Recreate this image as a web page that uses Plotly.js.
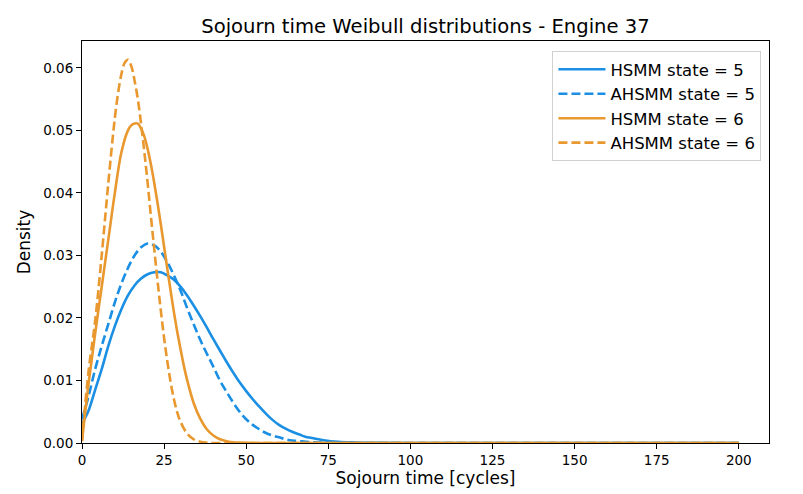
<!DOCTYPE html>
<html>
<head>
<meta charset="utf-8">
<script src="https://cdn.plot.ly/plotly-3.0.1.min.js"></script>
<style>html,body{margin:0;padding:0;background:#fff;}#chart{width:803px;height:494px;}</style>
</head>
<body>
<div id="chart"></div>
<script>
// Sojourn time (cycles) sample points
const hsmm5X = [0,2,4,6,8,10,12,14,16,18,20,22,24,26,28,30,32,34,36,38,40,42,44,46,48,50,52,54,56,58,60,62,64,66,68,70,74,78,82,86,90,100,120,150,200];
const hsmm5Y = [0.0031,0.0052,0.0085,0.0118,0.0155,0.0187,0.0214,0.0236,0.0252,0.0263,0.0270,0.0273,0.0273,0.0268,0.0261,0.0250,0.0236,0.0220,0.0203,0.0185,0.0166,0.0148,0.0130,0.0113,0.0097,0.0083,0.0070,0.0058,0.0047,0.0037,0.0029,0.0023,0.0018,0.0014,0.0010,0.0008,0.0004,0.0002,0.0001,0.00005,0.00002,0,0,0,0];

const ahsmm5X = [0,2,4,6,8,10,12,14,16,18,20,22,24,26,28,30,32,34,36,38,40,42,44,46,48,50,52,54,56,58,60,62,64,66,70,75,80,90,120,150,200];
const ahsmm5Y = [0.0038,0.0075,0.0118,0.0155,0.0190,0.0225,0.0255,0.0280,0.0300,0.0313,0.0319,0.0316,0.0306,0.0289,0.0268,0.0244,0.0216,0.0190,0.0165,0.0143,0.0122,0.0100,0.0082,0.0065,0.0050,0.0038,0.0029,0.0022,0.0016,0.0012,0.0009,0.0006,0.0004,0.0003,0.00012,0.00004,0.00001,0,0,0,0];

const hsmm6X = [0,2,4,6,8,10,12,14,15,16,17,18,19,20,21,22,23,24,25,26,27,28,29,30,31,32,34,36,38,40,42,44,46,50,55,70,100,150,200];
const hsmm6Y = [0.0003,0.0095,0.0175,0.0250,0.0325,0.0400,0.0465,0.0500,0.0508,0.0511,0.0511,0.0503,0.0490,0.0470,0.0445,0.0416,0.0384,0.0350,0.0314,0.0278,0.0243,0.0209,0.0178,0.0150,0.0124,0.0101,0.0064,0.0039,0.0022,0.0012,0.0006,0.0003,0.0001,0.00002,0,0,0,0,0];

const ahsmm6X = [0,2,4,6,8,10,11,12,13,14,15,16,17,18,19,20,21,22,23,24,25,26,27,28,29,30,32,34,36,38,40,50,70,100,150,200];
const ahsmm6Y = [0.0003,0.0115,0.0195,0.0300,0.0415,0.0520,0.0560,0.0590,0.0608,0.0613,0.0603,0.0580,0.0550,0.0510,0.0465,0.0415,0.0362,0.0310,0.0260,0.0212,0.0168,0.0130,0.0097,0.0070,0.0049,0.0034,0.0015,0.0006,0.0002,0.00005,0,0,0,0,0,0];

const seriesNames = ['HSMM state = 5','AHSMM state = 5','HSMM state = 6','AHSMM state = 6'];
const xTicks = [0,25,50,75,100,125,150,175,200];
const yTicks = [0,0.01,0.02,0.03,0.04,0.05,0.06];

const BLUE = '#1a8fe3', ORANGE = '#e8982e';
const DASH = '9px,4px';

const traces = [
  {x: hsmm5X, y: hsmm5Y, name: seriesNames[0], legendgroup: 'a', line: {color: BLUE, width: 2.6, shape: 'spline'}},
  {x: ahsmm5X, y: ahsmm5Y, name: seriesNames[1], legendgroup: 'b', line: {color: BLUE, width: 2.6, dash: DASH, shape: 'spline'}},
  {x: hsmm6X, y: hsmm6Y, name: seriesNames[2], legendgroup: 'c', line: {color: ORANGE, width: 2.6, shape: 'spline'}},
  {x: ahsmm6X, y: ahsmm6Y, name: seriesNames[3], legendgroup: 'd', line: {color: ORANGE, width: 2.6, dash: DASH, shape: 'spline'}}
].map(t => Object.assign({type: 'scatter', mode: 'lines', cliponaxis: true}, t));

const axisCommon = {
  showgrid: false, zeroline: false, showline: true, mirror: true,
  linecolor: '#000', linewidth: 1, ticks: 'outside', ticklen: 5, tickwidth: 1, tickcolor: '#000',
  tickfont: {family: 'DejaVu Sans', size: 13.5, color: '#000'}
};

const layout = {
  width: 803, height: 494,
  margin: {l: 82, r: 34, t: 41, b: 51, pad: 0},
  paper_bgcolor: '#fff', plot_bgcolor: '#fff',
  font: {family: 'DejaVu Sans', color: '#000'},
  title: {text: 'Sojourn time Weibull distributions - Engine 37', font: {family: 'DejaVu Sans', size: 19.6, color: '#000'},
          x: 0.5, xref: 'paper', y: 0.947, yref: 'container', yanchor: 'middle'},
  xaxis: Object.assign({}, axisCommon, {
    range: [0, 209.2], tickvals: xTicks, ticktext: xTicks.map(String),
    title: {text: 'Sojourn time [cycles]', font: {family: 'DejaVu Sans', size: 17, color: '#000'}, standoff: 3}
  }),
  yaxis: Object.assign({}, axisCommon, {
    range: [0, 0.0643], tickvals: yTicks, ticktext: yTicks.map(v => v.toFixed(2)),
    title: {text: 'Density', font: {family: 'DejaVu Sans', size: 17, color: '#000'}, standoff: 8}
  }),
  legend: {
    x: 0.989, y: 0.975, xanchor: 'right', yanchor: 'top',
    bgcolor: 'rgba(255,255,255,0.8)', bordercolor: '#d0d0d0', borderwidth: 1,
    font: {family: 'DejaVu Sans', size: 16.5, color: '#000'},
    itemwidth: 47, tracegroupgap: 0, traceorder: 'grouped'
  },
  showlegend: true
};

Plotly.newPlot('chart', traces, layout, {displayModeBar: false, staticPlot: true});
</script>
</body>
</html>
